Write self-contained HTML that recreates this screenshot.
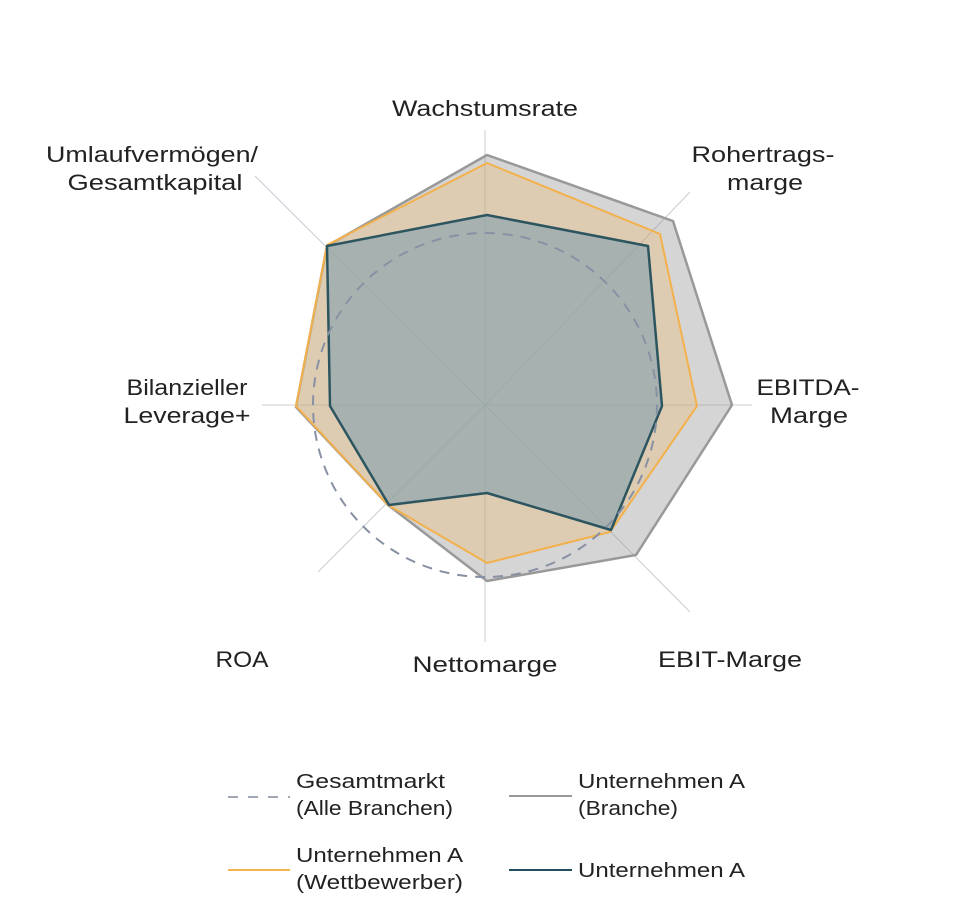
<!DOCTYPE html>
<html><head><meta charset="utf-8"><style>
html,body{margin:0;padding:0;background:#fff;}
svg{display:block;}
text{font-family:"Liberation Sans","DejaVu Sans",sans-serif;fill:#222;}
</style></head><body>
<svg width="966" height="922" viewBox="0 0 966 922" xmlns="http://www.w3.org/2000/svg">
<g stroke="#c8ccd2" stroke-width="1">
<line x1="485" y1="405" x2="485" y2="130"/>
<line x1="485" y1="405" x2="690" y2="192"/>
<line x1="485" y1="405" x2="752" y2="405"/>
<line x1="485" y1="405" x2="690" y2="612"/>
<line x1="485" y1="405" x2="485" y2="642"/>
<line x1="485" y1="405" x2="318" y2="572"/>
<line x1="485" y1="405" x2="262" y2="405"/>
<line x1="485" y1="405" x2="255" y2="176"/>
</g>
<polygon points="487,155 673,221 732,405 636,555 487,581 388,505 296,407 327,246" fill="rgba(150,150,150,0.4)" stroke="#999" stroke-width="2.5" stroke-linejoin="round"/>
<polygon points="487,163 660,234 697,406 610,532 487,563 388,505 296,406 327,245" fill="rgba(245,185,100,0.3)" stroke="#f2b14c" stroke-width="2" stroke-linejoin="round"/>
<polygon points="487,215 648,246 662,406 611,530 487,493 389,505 330,406 327,246" fill="rgba(130,160,175,0.6)" stroke="#2d5560" stroke-width="2.5" stroke-linejoin="round"/>
<circle cx="485" cy="405" r="172" fill="none" stroke="#8791a3" stroke-width="2" stroke-dasharray="10,8"/>
<g font-size="22" text-anchor="middle">
<text x="485" y="116" textLength="186" lengthAdjust="spacingAndGlyphs">Wachstumsrate</text>
<text x="763" y="162" textLength="143" lengthAdjust="spacingAndGlyphs">Rohertrags-</text>
<text x="765" y="190" textLength="76" lengthAdjust="spacingAndGlyphs">marge</text>
<text x="152" y="162" textLength="212" lengthAdjust="spacingAndGlyphs">Umlaufvermögen/</text>
<text x="155" y="190" textLength="175" lengthAdjust="spacingAndGlyphs">Gesamtkapital</text>
<text x="808" y="395" textLength="103" lengthAdjust="spacingAndGlyphs">EBITDA-</text>
<text x="809" y="423" textLength="78" lengthAdjust="spacingAndGlyphs">Marge</text>
<text x="187" y="395" textLength="121" lengthAdjust="spacingAndGlyphs">Bilanzieller</text>
<text x="187" y="423" textLength="127" lengthAdjust="spacingAndGlyphs">Leverage+</text>
<text x="242" y="667" textLength="53" lengthAdjust="spacingAndGlyphs">ROA</text>
<text x="485" y="672" textLength="145" lengthAdjust="spacingAndGlyphs">Nettomarge</text>
<text x="730" y="667" textLength="144" lengthAdjust="spacingAndGlyphs">EBIT-Marge</text>
</g>
<line x1="228" y1="797" x2="290" y2="797" stroke="#a0a8b6" stroke-width="2" stroke-dasharray="10,10"/>
<line x1="509" y1="796" x2="572" y2="796" stroke="#999" stroke-width="2"/>
<line x1="228" y1="870" x2="290" y2="870" stroke="#f5b651" stroke-width="2"/>
<line x1="509" y1="870" x2="572" y2="870" stroke="#1f4f5e" stroke-width="2"/>
<g font-size="20">
<text x="296" y="788" textLength="149" lengthAdjust="spacingAndGlyphs">Gesamtmarkt</text>
<text x="296" y="815" textLength="157" lengthAdjust="spacingAndGlyphs">(Alle Branchen)</text>
<text x="578" y="788" textLength="167" lengthAdjust="spacingAndGlyphs">Unternehmen A</text>
<text x="578" y="815" textLength="100" lengthAdjust="spacingAndGlyphs">(Branche)</text>
<text x="296" y="862" textLength="167" lengthAdjust="spacingAndGlyphs">Unternehmen A</text>
<text x="296" y="889" textLength="167" lengthAdjust="spacingAndGlyphs">(Wettbewerber)</text>
<text x="578" y="877" textLength="167" lengthAdjust="spacingAndGlyphs">Unternehmen A</text>
</g>
</svg>
</body></html>
